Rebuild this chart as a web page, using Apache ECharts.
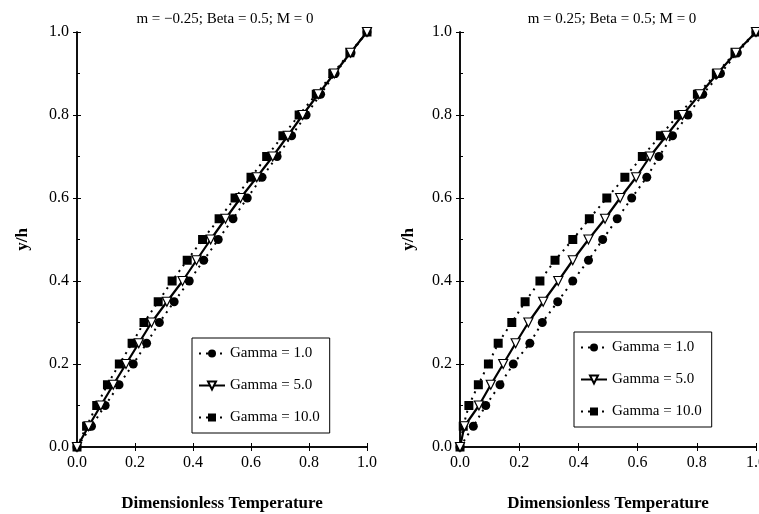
<!DOCTYPE html>
<html>
<head>
<meta charset="utf-8">
<script src="https://cdn.jsdelivr.net/npm/echarts@6/dist/echarts.min.js"></script>
<style>html,body{margin:0;padding:0;background:#fff}#c{width:759px;height:514px}</style>
</head>
<body>
<div id="c"></div>
<script>
// y/h positions (shared by all series)
const yVals = [0,0.05,0.1,0.15,0.2,0.25,0.3,0.35,0.4,0.45,0.5,0.55,0.6,0.65,0.7,0.75,0.8,0.85,0.9,0.95,1.0];
// Left panel: m = -0.25 (dimensionless temperature values)
const leftG1  = [0,0.05,0.097,0.145,0.194,0.24,0.284,0.335,0.387,0.437,0.487,0.538,0.587,0.638,0.69,0.74,0.79,0.84,0.89,0.945,1.0];
const leftG5  = [0,0.04,0.082,0.125,0.169,0.213,0.257,0.31,0.364,0.412,0.461,0.512,0.564,0.62,0.675,0.727,0.778,0.832,0.887,0.943,1.0];
const leftG10 = [0,0.033,0.068,0.105,0.146,0.19,0.231,0.28,0.328,0.38,0.433,0.49,0.545,0.6,0.654,0.71,0.766,0.825,0.882,0.941,1.0];
// Right panel: m = 0.25
const rightG1  = [0,0.045,0.087,0.135,0.18,0.236,0.278,0.33,0.381,0.434,0.482,0.531,0.58,0.631,0.672,0.718,0.77,0.82,0.88,0.937,1.0];
const rightG5  = [0,0.015,0.064,0.104,0.146,0.188,0.231,0.281,0.332,0.381,0.434,0.49,0.541,0.595,0.642,0.697,0.752,0.81,0.87,0.932,1.0];
const rightG10 = [0,0.011,0.03,0.062,0.096,0.129,0.175,0.22,0.27,0.321,0.381,0.437,0.496,0.557,0.616,0.677,0.738,0.802,0.866,0.929,1.0];
const seriesNames = ['Gamma = 1.0','Gamma = 5.0','Gamma = 10.0'];
const titles = ['m = \u22120.25; Beta = 0.5; M = 0','m = 0.25; Beta = 0.5; M = 0'];
const xName = 'Dimensionless Temperature';
const yName = 'y/h';

const FONT = 'Liberation Serif';
const pairs = xs => xs.map((x,i)=>[x,yVals[i]]);
const grids = [
  {left:77, top:32, width:290, height:415, outerBoundsMode:'none', containLabel:false},
  {left:460, top:32, width:296, height:415, outerBoundsMode:'none', containLabel:false}
];
function xAxes(gi, nameGap){
  return [{
    type:'value', gridIndex:gi, min:0, max:1, interval:0.2,
    name:xName, nameLocation:'middle', nameGap:nameGap,
    nameTextStyle:{fontFamily:FONT,fontWeight:'bold',fontSize:17,color:'#000'},
    axisLine:{show:true,lineStyle:{color:'#000',width:1.5}},
    axisTick:{show:true,inside:true,length:4,lineStyle:{color:'#000'}},
    minorTick:{show:false},
    splitLine:{show:false},
    axisLabel:{fontFamily:FONT,fontSize:16,color:'#000',margin:8,formatter:v=>v.toFixed(1)}
  },{
    type:'value', gridIndex:gi, min:0, max:1, interval:0.2, position:'top',
    axisLine:{show:true,lineStyle:{color:'#000',width:1.5}},
    axisTick:{show:true,inside:true,length:4,lineStyle:{color:'#000'}},
    axisLabel:{show:false}, splitLine:{show:false}
  }];
}
function yAxes(gi, nameGap){
  return [{
    type:'value', gridIndex:gi, min:0, max:1, interval:0.2,
    name:yName, nameLocation:'middle', nameGap:nameGap, nameRotate:90,
    nameTextStyle:{fontFamily:FONT,fontWeight:'bold',fontSize:17,color:'#000'},
    axisLine:{show:true,lineStyle:{color:'#000',width:1.5}},
    axisTick:{show:true,inside:true,length:4,lineStyle:{color:'#000'}},
    minorTick:{show:true,splitNumber:2,length:3,lineStyle:{color:'#000'}},
    splitLine:{show:false},
    axisLabel:{fontFamily:FONT,fontSize:16,color:'#000',margin:8,formatter:v=>v.toFixed(1)}
  },{
    type:'value', gridIndex:gi, min:0, max:1, interval:0.2, position:'right',
    axisLine:{show:true,lineStyle:{color:'#000',width:1.5}},
    axisTick:{show:true,inside:true,length:4,lineStyle:{color:'#000'}},
    axisLabel:{show:false}, splitLine:{show:false}
  }];
}
function mkSeries(gi, xs1, xs5, xs10){
  const ax = gi*2;
  return [
    {name:seriesNames[0], type:'line', xAxisIndex:ax, yAxisIndex:ax, data:pairs(xs1),
     symbol:'circle', symbolSize:9, itemStyle:{color:'#000'},
     lineStyle:{color:'#000',width:2,type:[2,5]}, z:3},
    {name:seriesNames[1], type:'line', xAxisIndex:ax, yAxisIndex:ax, data:pairs(xs5),
     symbol:'triangle', symbolRotate:180, symbolSize:9,
     itemStyle:{color:'#fff',borderColor:'#000',borderWidth:1.2},
     lineStyle:{color:'#000',width:2.2,type:'solid'}, z:4},
    {name:seriesNames[2], type:'line', xAxisIndex:ax, yAxisIndex:ax, data:pairs(xs10),
     symbol:'rect', symbolSize:9, itemStyle:{color:'#000'},
     lineStyle:{color:'#000',width:2,type:[2,5]}, z:3}
  ];
}
function mkLegend(left, top){
  return {
    orient:'vertical', left:left, top:top, padding:[8,10,8,6], itemGap:17,
    borderColor:'#000', borderWidth:1, backgroundColor:'#fff',
    itemWidth:26, itemHeight:10,
    textStyle:{fontFamily:FONT,fontSize:15,color:'#000'},
    data:seriesNames
  };
}
const chart = echarts.init(document.getElementById('c'));
const s1 = mkSeries(0, leftG1, leftG5, leftG10);
const s2 = mkSeries(1, rightG1, rightG5, rightG10);
chart.setOption({
  animation:false,
  backgroundColor:'#fff',
  textStyle:{fontFamily:FONT},
  title:[
    {text:titles[0], left:220, top:7, textAlign:'center', textStyle:{fontFamily:FONT,fontSize:15,fontWeight:'normal',color:'#000'}},
    {text:titles[1], left:607, top:7, textAlign:'center', textStyle:{fontFamily:FONT,fontSize:15,fontWeight:'normal',color:'#000'}}
  ],
  grid:grids,
  xAxis:[...xAxes(0,48),...xAxes(1,48)],
  yAxis:[...yAxes(0,46),...yAxes(1,43)],
  legend:[mkLegend(192,338), mkLegend(574,332)],
  series:[...s1,...s2]
});
</script>
</body>
</html>
